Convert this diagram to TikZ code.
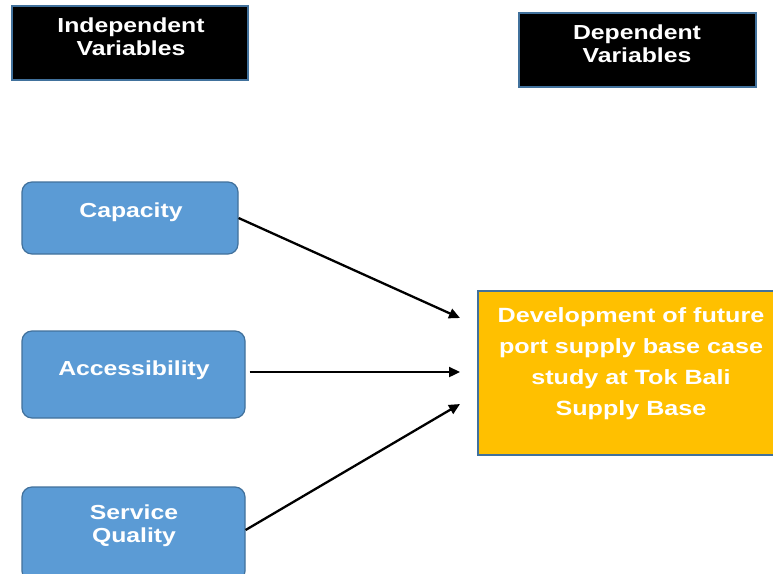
\documentclass[tikz,border=0pt]{standalone}
\usepackage{fontspec}
\setmainfont[FakeStretch=1.22]{Liberation Sans}
\usetikzlibrary{arrows.meta}
\definecolor{hdrborder}{HTML}{41719C}
\definecolor{varblue}{HTML}{5B9BD5}
\definecolor{varborder}{HTML}{41719C}
\definecolor{outorange}{HTML}{FFC000}
\begin{document}
\begin{tikzpicture}[x=1pt,y=-1pt,
  hdr/.style={draw=hdrborder, line width=1.5pt, fill=black, inner sep=0pt},
  var/.style={draw=varborder, line width=1.2pt, fill=varblue, rounded corners=10pt, inner sep=0pt},
  outbox/.style={draw=varborder, line width=1.5pt, fill=outorange, inner sep=0pt},
  txt/.style={text=white, align=center, inner sep=0pt, font=\bfseries\fontsize{20.3}{23}\selectfont},
  outtxt/.style={text=white, align=center, inner sep=0pt, font=\bfseries\fontsize{20.6}{31}\selectfont},
  arr/.style={line width=2.3pt, -{Triangle[length=11pt,width=10pt]}}]
\useasboundingbox (0,0) rectangle (773,573);
\fill[white] (0,0) rectangle (773,573);
% header boxes
\node[hdr, minimum width=236pt, minimum height=74pt] (ind) at (130,43) {};
\node[txt] (indT) at (131,37) {Independent\\Variables};
\node[hdr, minimum width=237pt, minimum height=74pt] (dep) at (637.5,50) {};
\node[txt] (depT) at (637,43.5) {Dependent\\Variables};
% independent variables
\node[var, minimum width=216pt, minimum height=72pt] (cap) at (130,218) {};
\node[txt] (capT) at (131,212) {Capacity};
\node[var, minimum width=223pt, minimum height=87pt] (acc) at (133.5,374.5) {};
\node[txt] (accT) at (134,370) {Accessibility};
\node[var, minimum width=223pt, minimum height=94pt] (sq) at (133.5,534) {};
\node[txt] (sqT) at (134,526) {Service\\Quality};
% dependent variable
\node[outbox, minimum width=310pt, minimum height=164pt] (dev) at (633,373) {};
\node[outtxt] (devT) at (631,364) {Development of future\\port supply base case\\study at Tok Bali\\Supply Base};
% arrow targets
\coordinate (c1) at (460,318);
\coordinate (c2) at (460,372);
\coordinate (c3) at (460,404);
\draw[arr] (cap.east) -- (c1);
\draw[arr] ([xshift=4pt,yshift=2.5pt]acc.east) -- (c2);
\draw[arr] ([yshift=4pt]sq.east) -- (c3);
\end{tikzpicture}
\end{document}
